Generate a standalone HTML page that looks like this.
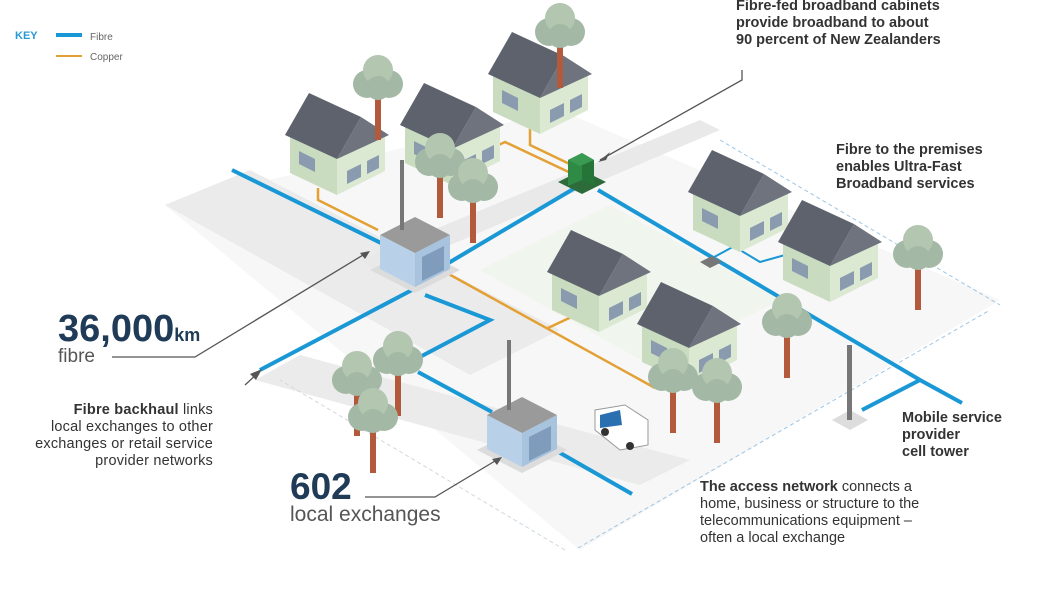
<!DOCTYPE html>
<html><head><meta charset="utf-8"><style>
html,body{margin:0;padding:0;background:#fff;width:1053px;height:600px;overflow:hidden}
svg{display:block}
text{font-family:"Liberation Sans",sans-serif}
</style></head><body>
<svg width="1053" height="600" viewBox="0 0 1053 600" xmlns="http://www.w3.org/2000/svg">
<defs>
<g id="house">
  <polygon points="5,42 52,64 52,102 5,80" fill="#c9dcc0"/>
  <polygon points="52,64 100,40 100,78 52,102" fill="#dbe9d2"/>
  <polygon points="0,42 24,0 76,24 52,66" fill="#5d626d"/>
  <polygon points="76,24 104,42 52,66" fill="#6e737e"/>
  <polygon points="62,78 76,71 76,84 62,91" fill="#8a9bb0"/>
  <polygon points="82,68 94,62 94,75 82,81" fill="#8a9bb0"/>
  <polygon points="14,58 30,66 30,79 14,71" fill="#8a9bb0"/>
</g>
<g id="tree">
  <rect x="-3" y="0" width="6" height="48" fill="#b45a3c"/>
  <circle cx="-11" cy="-8" r="14" fill="#a3b8a5"/>
  <circle cx="11" cy="-8" r="14" fill="#a3b8a5"/>
  <circle cx="0" cy="-22" r="15" fill="#b3c6b0"/>
  <circle cx="0" cy="-4" r="12" fill="#a3b8a5"/>
</g>
<g id="exch">
  <polygon points="-10,55 35,78 80,55 35,32" fill="#dcdcdc"/>
  <polygon points="0,20 35,38 35,72 0,54" fill="#b9d1e8"/>
  <polygon points="35,38 70,20 70,54 35,72" fill="#a8c3dd"/>
  <polygon points="0,20 35,2 70,20 35,38" fill="#9a9a9a"/>
  <polygon points="42,42 64,31 64,55 42,66" fill="#7f9cbd"/>
  <rect x="20" y="-55" width="4" height="70" fill="#777"/>
</g>
</defs>

<!-- ground -->
<polygon points="165,205 560,110 1000,300 580,550" fill="#f6f7f6"/>
<polygon points="165,205 250,170 560,330 470,375" fill="#ebebeb"/>
<polygon points="255,380 300,355 690,460 640,485" fill="#ebebeb"/>
<polygon points="360,260 700,120 720,130 380,275" fill="#e9e9e9"/>
<polygon points="480,270 610,205 780,300 650,365" fill="#f0f5ee"/>
<line x1="578" y1="548" x2="990" y2="310" stroke="#9ec6e4" stroke-width="1" stroke-dasharray="4,3"/>
<line x1="720" y1="140" x2="1000" y2="305" stroke="#9ec6e4" stroke-width="1" stroke-dasharray="4,3"/>
<line x1="565" y1="550" x2="280" y2="380" stroke="#cfd8df" stroke-width="1" stroke-dasharray="4,3"/>

<!-- copper -->
<g stroke="#e3a034" stroke-width="2.5" fill="none">
<polyline points="318,188 318,200 378,230"/>
<polyline points="575,175 505,142 455,165 455,158"/>
<polyline points="578,168 530,145 530,128"/>
<polyline points="445,272 655,388"/>
<polyline points="548,328 582,312"/>
</g>
<!-- fibre -->
<g stroke="#1a98d5" stroke-width="4" fill="none">
<polyline points="232,170 385,245"/>
<polyline points="440,268 575,188"/>
<polyline points="598,190 920,380 962,403"/>
<polyline points="920,380 862,410"/>
<polyline points="260,370 412,290"/>
<polyline points="425,295 490,320 418,358"/>
<polyline points="418,372 492,412"/>
<polyline points="555,450 632,494"/>
<polyline points="705,262 740,243 742,235" stroke-width="2"/>
<polyline points="740,250 760,262 785,255" stroke-width="2"/>
</g>
<polygon points="700,262 712,256 722,262 710,268" fill="#777"/>

<!-- houses -->
<use href="#house" x="285" y="93"/>
<use href="#house" x="400" y="83"/>
<use href="#house" x="488" y="32"/>
<use href="#house" x="688" y="150"/>
<use href="#house" x="778" y="200"/>
<use href="#house" x="547" y="230"/>
<use href="#house" x="637" y="282"/>

<!-- trees -->
<use href="#tree" x="378" y="92"/>
<use href="#tree" x="560" y="40"/>
<use href="#tree" x="440" y="170"/>
<use href="#tree" x="473" y="195"/>
<use href="#tree" x="918" y="262"/>
<use href="#tree" x="787" y="330"/>
<use href="#tree" x="673" y="385"/>
<use href="#tree" x="717" y="395"/>
<use href="#tree" x="398" y="368"/>
<use href="#tree" x="357" y="388"/>
<use href="#tree" x="373" y="425"/>

<!-- cabinet -->
<polygon points="558,182 582,170 606,182 582,194" fill="#2d6b3a"/>
<polygon points="568,160 582,153 582,180 568,186" fill="#2f8a45"/>
<polygon points="582,153 594,160 594,186 582,180" fill="#257538"/>
<polygon points="568,160 582,153 594,160 580,166" fill="#3a9a52"/>

<!-- exchanges -->
<use href="#exch" x="380" y="215"/>
<use href="#exch" x="487" y="395"/>

<!-- cell tower -->
<polygon points="832,420 850,410 868,420 850,430" fill="#ddd"/>
<rect x="847" y="345" width="5" height="75" fill="#777"/>

<!-- van -->
<polygon points="595,410 625,405 648,420 648,445 620,450 595,430" fill="#fff" stroke="#999"/>
<polygon points="600,415 620,410 622,425 600,428" fill="#2a6fb0"/>
<circle cx="605" cy="432" r="4" fill="#333"/><circle cx="630" cy="446" r="4" fill="#333"/>

<!-- leaders -->
<g stroke="#555" stroke-width="1.3" fill="none">
<polyline points="742,70 742,80 600,160"/>
<polyline points="112,357 195,357 368,252"/>
<line x1="245" y1="385" x2="258" y2="373"/>
<polyline points="365,497 435,497 500,458"/>
</g>
<polygon points="598,162 610,152 606,160" fill="#555"/>
<polygon points="370,251 360,253 365,259" fill="#555"/>
<polygon points="262,369 250,374 256,380" fill="#555"/>
<polygon points="502,457 492,459 497,465" fill="#555"/>

<!-- legend -->
<text x="15" y="39" font-size="11" font-weight="bold" fill="#2a9ad6">KEY</text>
<rect x="56" y="33" width="26" height="4" fill="#1a98d5"/>
<text x="90" y="40" font-size="10" fill="#666">Fibre</text>
<rect x="56" y="55" width="26" height="2" fill="#e3a034"/>
<text x="90" y="60" font-size="10" fill="#666">Copper</text>

<!-- texts -->
<g font-size="14.5" font-weight="bold" fill="#333">
<text x="736" y="10">Fibre-fed broadband cabinets</text>
<text x="736" y="27">provide broadband to about</text>
<text x="736" y="44">90 percent of New Zealanders</text>
<text x="836" y="154">Fibre to the premises</text>
<text x="836" y="171">enables Ultra-Fast</text>
<text x="836" y="188">Broadband services</text>
<text x="902" y="422">Mobile service</text>
<text x="902" y="439">provider</text>
<text x="902" y="456">cell tower</text>
</g>
<text x="58" y="341" font-size="38" font-weight="bold" fill="#1f3b57">36,000<tspan font-size="18">km</tspan></text>
<text x="58" y="362" font-size="19" fill="#555">fibre</text>
<g font-size="14.5" fill="#333" text-anchor="end" letter-spacing="0.2">
<text x="213" y="414"><tspan font-weight="bold">Fibre backhaul</tspan> links</text>
<text x="213" y="431">local exchanges to other</text>
<text x="213" y="448">exchanges or retail service</text>
<text x="213" y="465">provider networks</text>
</g>
<text x="290" y="499" font-size="37" font-weight="bold" fill="#1f3b57">602</text>
<text x="290" y="521" font-size="21" fill="#555">local exchanges</text>
<g font-size="14.5" fill="#333">
<text x="700" y="491"><tspan font-weight="bold">The access network</tspan> connects a</text>
<text x="700" y="508">home, business or structure to the</text>
<text x="700" y="525">telecommunications equipment –</text>
<text x="700" y="542">often a local exchange</text>
</g>
</svg>
</body></html>
